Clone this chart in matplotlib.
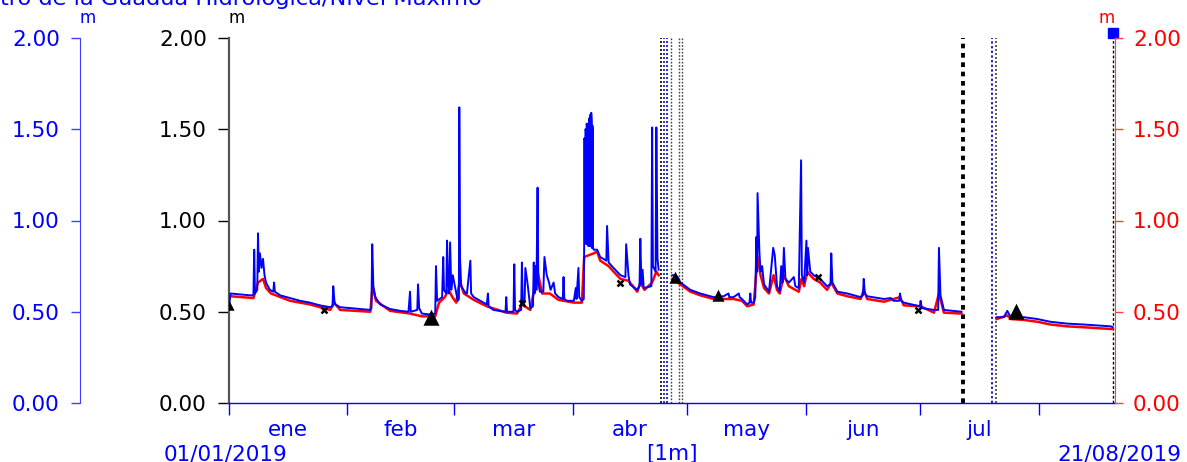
import matplotlib
matplotlib.use("Agg")
import matplotlib.pyplot as plt
import numpy as np

nan = np.nan

# days since 01/01/2019 -> level (m); nan = gap in the record
blue_day = [0.0, 0.4, 3.0, 5.5, 6.4, 6.6, 6.8, 7.4, 7.6, 7.8, 8.1, 8.5, 8.9, 9.3, 9.7,
            10.7, 11.6, 11.8, 12.0, 13.4, 16.0, 18.6, 21.2, 23.8, 26.5, 27.1, 27.3, 27.6,
            27.8, 29.1, 31.7, 34.3, 37.0, 37.3, 37.5, 37.8, 38.3, 39.6, 42.2, 44.8, 47.0,
            47.4, 47.6, 49.3, 49.5, 49.8, 50.5, 52.7, 54.0, 54.2, 54.5, 55.8, 56.1, 56.3,
            56.9, 57.1, 57.3, 57.6, 57.9, 58.2, 58.6, 59.9, 60.2, 60.3, 60.5, 60.8, 62.0,
            62.3, 63.2, 63.4, 64.1, 65.8, 67.5, 67.8, 68.0, 69.2, 72.4, 72.6, 72.8, 74.5,
            74.7, 74.9, 75.4, 76.5, 76.7, 76.9, 77.4, 77.6, 78.2, 78.9, 79.6, 79.8, 80.0,
            80.2, 80.5, 80.8, 81.0, 81.4, 82.3, 82.6, 83.2, 83.8, 84.2, 85.0, 85.4, 86.3,
            87.4, 87.6, 87.8, 88.5, 90.3, 90.8, 91.0, 91.5, 91.7, 92.4, 92.9,
            93.0, 93.05, 93.15, 93.2, 93.3, 93.35, 93.45, 93.5, 93.6, 93.65, 93.75, 93.8,
            93.9, 93.95, 94.05, 94.1, 94.2, 94.25, 94.35, 94.4, 94.5, 94.55, 94.65, 94.7,
            94.8, 94.85, 94.95, 95.0, 95.1, 95.15, 95.25, 95.3, 95.5, 96.4, 97.2, 98.8,
            99.0, 99.4, 100.7, 102.5, 103.8, 104.0, 104.6, 105.0, 106.9, 107.5, 107.7,
            108.0, 108.3, 108.6, 110.6, 110.8, 111.0, 111.7, 111.9, 112.2, 112.5, nan,
            116.1, 116.5, 117.5, 118.2, 120.8, 123.4, 126.9, 129.5, 130.8, 131.0, 132.1,
            133.5, 133.7, 134.3, 135.7, 136.3, 136.5, 136.7, 137.4, 137.8, 138.1, 138.3,
            138.4, 138.9, 139.2, 139.6, 140.1, 141.4, 142.5, 142.9, 143.5, 144.2, 144.6,
            145.0, 145.3, 145.7, 146.6, 147.9, 148.3, 149.2, 149.8, 150.0, 150.6, 151.2,
            151.4, 151.6, 152.2, 153.1, 154.8, 156.6, 157.5, 157.7, 158.0, 159.3, 161.9,
            165.4, 166.0, 166.2, 166.5, 167.1, 171.5, 173.3, 174.0, 175.5, 175.7, 176.0,
            176.7, 180.9, 181.1, 181.4, 184.6, 185.7, 185.9, 186.3, 187.2, 191.6, 191.8, nan,
            201.0, 202.9, 203.8, 204.7, 208.2, 211.7, 215.1, 219.5, 223.9, 227.4, 230.9,
            231.4]
blue_val = [0.53, 0.60, 0.595, 0.59, 0.59, 0.84, 0.60, 0.62, 0.93, 0.72, 0.82, 0.74, 0.79, 0.70, 0.66,
            0.62, 0.61, 0.66, 0.61, 0.59, 0.575, 0.56, 0.55, 0.535, 0.525, 0.53, 0.64, 0.56,
            0.54, 0.525, 0.52, 0.515, 0.51, 0.52, 0.87, 0.64, 0.58, 0.54, 0.515, 0.505, 0.50,
            0.61, 0.50, 0.51, 0.65, 0.52, 0.49, 0.485, 0.49, 0.75, 0.56, 0.58, 0.80, 0.62,
            0.60, 0.89, 0.68, 0.60, 0.88, 0.62, 0.70, 0.56, 0.57, 1.62, 0.79, 0.64, 0.60,
            0.60, 0.78, 0.60, 0.58, 0.56, 0.54, 0.60, 0.53, 0.51, 0.50, 0.58, 0.50, 0.50,
            0.76, 0.51, 0.50, 0.51, 0.77, 0.56, 0.55, 0.74, 0.65, 0.52, 0.53, 0.77, 0.60,
            0.75, 0.62, 1.18, 0.66, 0.61, 0.61, 0.80, 0.70, 0.66, 0.62, 0.66, 0.60, 0.58,
            0.57, 0.69, 0.57, 0.56, 0.56, 0.63, 0.57, 0.74, 0.58, 0.56, 0.57,
            0.86, 1.45, 1.44, 0.90, 0.88, 1.50, 1.49, 0.88, 0.87, 1.53, 1.52, 0.88,
            0.87, 1.52, 1.53, 0.86, 0.86, 1.55, 1.56, 0.87, 0.86, 1.57, 1.58, 0.86,
            0.86, 1.59, 1.55, 0.85, 0.85, 1.52, 1.50, 0.85, 0.84, 0.84, 0.80, 0.78,
            0.97, 0.77, 0.74, 0.70, 0.69, 0.87, 0.70, 0.65, 0.62, 0.64, 0.90,
            0.65, 0.73, 0.63, 0.64, 1.51, 0.75, 0.72, 1.51, 0.79, 0.73, nan,
            0.70, 0.70, 0.69, 0.66, 0.62, 0.60, 0.58, 0.585, 0.60, 0.58, 0.58,
            0.60, 0.58, 0.57, 0.54, 0.55, 0.60, 0.55, 0.55, 0.58, 0.91, 0.72,
            1.15, 0.82, 0.72, 0.75, 0.65, 0.61, 0.85, 0.81, 0.64, 0.61, 0.75,
            0.66, 0.85, 0.68, 0.66, 0.69, 0.64, 0.63, 1.33, 0.70, 0.66, 0.89,
            0.70, 0.85, 0.72, 0.70, 0.68, 0.64, 0.65, 0.82, 0.66, 0.61, 0.60,
            0.58, 0.59, 0.68, 0.60, 0.585, 0.57, 0.575, 0.56, 0.56, 0.60, 0.56,
            0.55, 0.53, 0.56, 0.52, 0.51, 0.51, 0.85, 0.59, 0.51, 0.50, 0.50, nan,
            0.47, 0.47, 0.505, 0.47, 0.47, 0.46, 0.445, 0.435, 0.43, 0.425, 0.42,
            0.415]

# mean-level series (red), drawn under the blue one
red_day = [0.4, 6.4, 7.6, 8.9, 9.7, 11.0, 16.0, 21.2, 26.5, 27.5, 29.1, 37.0, 37.6, 38.5,
           42.2, 47.4, 50.5, 54.0, 55.0, 56.5, 57.5, 58.5, 59.5, 60.4, 61.5, 64.1, 67.5,
           72.6, 75.4, 76.7, 78.9, 80.8, 82.0, 84.0, 86.3, 90.3, 92.4, 93.0, 95.5, 96.4,
           97.2, 99.4, 100.7, 102.5, 104.6, 106.9, 107.7, 108.8, 110.8, 111.9, 112.5, nan,
           116.1, 118.2, 120.8, 123.4, 126.9, 129.5, 132.1, 134.3, 135.7, 137.4, 138.4,
           139.2, 140.1, 141.4, 142.6, 143.5, 144.2, 145.3, 146.6, 148.3, 149.2, 149.9,
           150.6, 151.4, 152.2, 153.1, 154.8, 156.6, 157.7, 159.3, 161.9, 165.4, 166.2,
           167.1, 171.5, 175.7, 176.7, 181.1, 184.6, 185.9, 187.2, 191.8, nan,
           201.0, 203.8, 204.7, 208.2, 211.7, 215.1, 219.5, 223.9, 227.4, 231.4]
red_val = [0.585, 0.575, 0.66, 0.68, 0.63, 0.60, 0.56, 0.54, 0.51, 0.55, 0.51, 0.50, 0.64, 0.56,
           0.505, 0.49, 0.475, 0.475, 0.55, 0.58, 0.62, 0.58, 0.55, 0.67, 0.60, 0.565, 0.53,
           0.495, 0.49, 0.54, 0.51, 0.72, 0.60, 0.60, 0.565, 0.55, 0.55, 0.80, 0.82, 0.83,
           0.78, 0.75, 0.72, 0.68, 0.67, 0.61, 0.66, 0.62, 0.66, 0.72, 0.70, nan,
           0.68, 0.65, 0.61, 0.59, 0.57, 0.57, 0.57, 0.56, 0.53, 0.54, 0.80,
           0.70, 0.63, 0.60, 0.70, 0.62, 0.60, 0.70, 0.64, 0.62, 0.61, 0.68,
           0.64, 0.72, 0.70, 0.68, 0.66, 0.62, 0.66, 0.60, 0.585, 0.57, 0.62,
           0.57, 0.555, 0.58, 0.535, 0.53, 0.495, 0.60, 0.495, 0.49, nan,
           0.46, 0.48, 0.46, 0.455, 0.445, 0.43, 0.42, 0.415, 0.41, 0.405]

# black event markers
mark_day = [0.0, 25.0, 53.0, 76.8, 102.5, 116.8, 128.1, 154.1, 180.3, 206.2]
mark_val = [0.53, 0.51, 0.465, 0.55, 0.66, 0.685, 0.585, 0.69, 0.51, 0.50]
mark_sym = ["^", "x", "^", "x", "x", "^", "^", "x", "x", "^"]
mark_size = [5, 5, 9, 5, 5, 6, 6, 5, 5, 9]

# vertical gap lines
gap_day = [113.2, 114.0, 114.8, 115.8, 117.9, 118.7, 192.1, 199.9, 200.9]
gap_color = ["black", "#202070", "blue", "#404040", "#404040", "#404040", "black", "#2020c0", "#404040"]
gap_width = [1.2, 1.2, 1.2, 1.0, 1.0, 1.0, 2.8, 1.4, 1.2]
last_day = 231.4
last_val = 2.027

month_start = [0, 31, 59, 90, 120, 151, 181, 212]
month_mid = [15.5, 45, 74.5, 105, 135.5, 166, 196.5]
month_name = ["ene", "feb", "mar", "abr", "may", "jun", "jul"]
y_ticks = [0.0, 0.5, 1.0, 1.5, 2.0]

W, H = 1187, 462
FS = 15.5
fig = plt.figure(figsize=(W / 100, H / 100), dpi=100)
rect = [229 / W, 59 / H, 886 / W, 365 / H]
ax = fig.add_axes(rect)

ax.plot(red_day, red_val, color="red", lw=1.8, zorder=3)
ax.plot(blue_day, blue_val, color="blue", lw=1.4, zorder=4)
for d, v, s, ms in zip(mark_day, mark_val, mark_sym, mark_size):
    ax.plot(d, v, marker=s, color="black", ms=ms, mew=1.8, ls="none", zorder=5)
for d, c, w in zip(gap_day, gap_color, gap_width):
    ax.axvline(d, color=c, lw=w, ls=(0, (1.2, 1.2)), zorder=2)
ax.plot([last_day, last_day], [0, last_val], color="black", lw=1.0, ls=(0, (2, 1.5)), zorder=2)
ax.plot(last_day, last_val, marker="s", color="blue", ms=7, clip_on=False, zorder=6)

ax.set_xlim(0, 232)
ax.set_ylim(0, 2)
ax.set_yticks(y_ticks)
ax.set_yticklabels([f"{v:.2f}" for v in y_ticks])
ax.set_xticks(month_start)
ax.set_xticklabels([])
ax.set_xticks(month_mid, minor=True)
ax.set_xticklabels(month_name, minor=True)
ax.tick_params(axis="y", length=8, width=1, color="black", labelsize=FS, pad=8)
ax.tick_params(axis="x", which="major", length=8.5, width=1, color="blue")
ax.tick_params(axis="x", which="minor", length=0, labelsize=FS, labelcolor="blue", pad=12.5)
for s in ("top", "right"):
    ax.spines[s].set_visible(False)
ax.spines["left"].set_color("#555555")
ax.spines["left"].set_linewidth(1.6)
ax.spines["bottom"].set_color("blue")
ax.spines["bottom"].set_linewidth(1.0)
ax.patch.set_visible(False)

# right (red) axis
axr = ax.twinx()
axr.set_ylim(0, 2)
axr.set_yticks(y_ticks)
axr.set_yticklabels([f"{v:.2f}" for v in y_ticks])
axr.tick_params(axis="y", length=6, width=1, color="#ff4040", labelcolor="red",
                labelsize=FS, pad=7)
for s in ("top", "left", "bottom"):
    axr.spines[s].set_visible(False)
axr.spines["right"].set_color("#ff4040")

# left (blue) axis
axb = fig.add_axes([80 / W, 59 / H, 0.0005, 365 / H])
axb.set_ylim(0, 2)
axb.set_yticks(y_ticks)
axb.set_yticklabels([f"{v:.2f}" for v in y_ticks])
axb.set_xticks([])
axb.tick_params(axis="y", length=6.5, width=1, color="#4040ff", labelcolor="blue",
                labelsize=FS, pad=8)
for s in ("top", "right", "bottom"):
    axb.spines[s].set_visible(False)
axb.spines["left"].set_color("#4040ff")
axb.patch.set_visible(False)

fig.text(0, 1 - 5 / H, "tro de la Guadua Hidrologica/Nivel Maximo", color="blue",
         fontsize=16.2, va="baseline", ha="left")
fig.text(88 / W, 1 - 23 / H, "m", color="blue", fontsize=12, ha="center", va="baseline")
fig.text(237 / W, 1 - 23 / H, "m", color="black", fontsize=12, ha="center", va="baseline")
fig.text(1107 / W, 1 - 23 / H, "m", color="red", fontsize=12, ha="center", va="baseline")
fig.text(164 / W, 2 / H, "01/01/2019", color="blue", fontsize=FS, ha="left", va="baseline")
fig.text(672 / W, 2 / H, "[1m]", color="blue", fontsize=FS, ha="center", va="baseline")
fig.text(1181 / W, 2 / H, "21/08/2019", color="blue", fontsize=FS, ha="right", va="baseline")

fig.savefig("out.png", dpi=100)
